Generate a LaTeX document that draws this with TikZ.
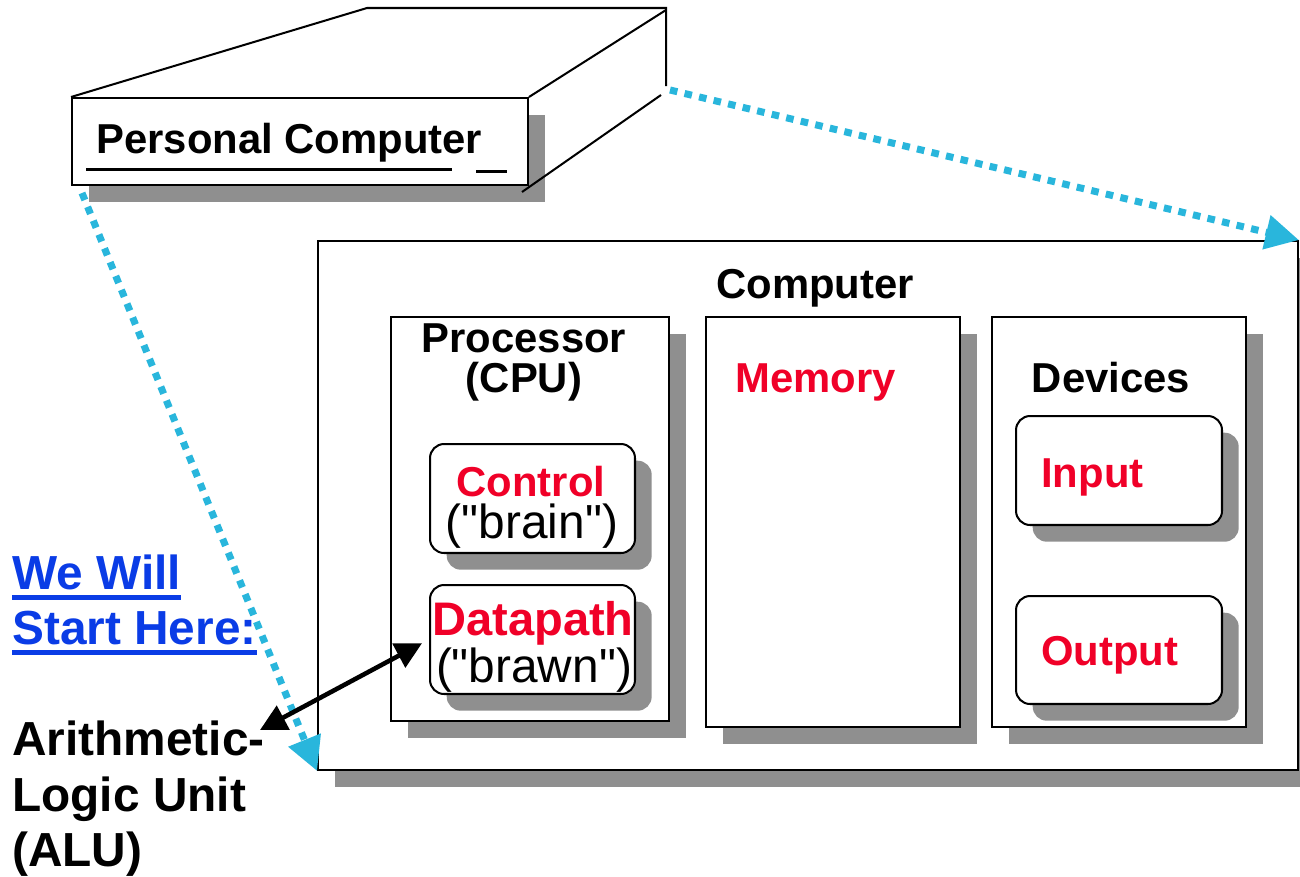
\documentclass[tikz,border=0pt]{standalone}
\usepackage{fontspec}
\setmainfont{Liberation Sans}[Ligatures=TeXOff]
\usetikzlibrary{arrows.meta,shadows}

\definecolor{shade}{HTML}{8F8F8F}
\definecolor{hot}{HTML}{F00028}
\definecolor{linkblue}{HTML}{0A3CE6}
\definecolor{sky}{HTML}{29B6DC}

\newcommand{\capfont}{\fontsize{23.8}{28}\selectfont\bfseries}
\newcommand{\bigfont}{\fontsize{27.2}{32}\selectfont\bfseries}
\newcommand{\plainfont}{\fontsize{27.2}{32}\selectfont}
\newcommand{\dpfont}{\fontsize{26.8}{32}\selectfont\bfseries}

\tikzset{
  panel/.style={draw=black, line width=1.15pt, fill=white, inner sep=0pt,
    general shadow={fill=shade, shadow xshift=9.5pt, shadow yshift=-9.5pt}},
  rbox/.style={panel, rounded corners=8pt, line width=1.15pt},
  edge/.style={draw=black, line width=1.15pt},
  txt/.style={inner sep=0pt, anchor=base},
  txtw/.style={inner sep=0pt, anchor=base west},
  linkrule/.style={draw=linkblue, line width=2.4pt},
  skyline/.style={draw=sky, line width=4pt, dash pattern=on 4.3pt off 4.2pt,
    -{Triangle[length=19pt,width=19pt]}},
  dbl/.style={draw=black, line width=2.6pt,
    {Triangle[length=15pt,width=15pt]}-{Triangle[length=15pt,width=15pt]}},
}

\begin{document}
\begin{tikzpicture}[x=0.02cm, y=-0.02cm]
  \fill[white] (0,0) rectangle (1300,876);
  \useasboundingbox (0,0) rectangle (1300,876);

  % the personal computer case, drawn as a box in perspective
  \node[panel, minimum width=9.12cm, minimum height=1.74cm] (pc) at (300,141.5) {};
  \coordinate (pcbackleft) at (367,8);
  \coordinate (pcbackright) at (666,8);
  \coordinate (pcrightlow) at (666,86);
  \coordinate (pcedgetop) at (666,10);
  \coordinate (pcedgelowA) at (522,192);
  \coordinate (pcedgelowB) at (661,95);
  \draw[edge] (pc.north west) -- (pcbackleft) -- (pcbackright) -- (pcrightlow);
  \draw[edge] (pc.north east) -- (pcedgetop);
  \draw[edge] (pcedgelowA) -- (pcedgelowB);
  \node[txtw, font=\capfont] (pclabel) at (96,153) {Personal Computer};
  \draw[edge] (86,169.5) -- (452,169.5);
  \draw[edge] (476,171.5) -- (507,171.5);

  % the computer and its parts
  \node[panel, minimum width=19.6cm, minimum height=10.58cm] (comp) at (808,505.5) {};
  \node[txt, font=\capfont] (comptitle) at (815,298) {Computer};

  \node[panel, minimum width=5.56cm, minimum height=8.08cm] (proc) at (530,519) {};
  \node[txt, font=\capfont] (proctitle) at (524,352) {Processor};
  \node[txt, font=\capfont] (proctitleb) at (524,392) {(CPU)};

  \node[panel, minimum width=5.08cm, minimum height=8.2cm] (mem) at (833,522) {};
  \node[txtw, font=\capfont, text=hot] (memtitle) at (735,392) {Memory};

  \node[panel, minimum width=5.08cm, minimum height=8.2cm] (dev) at (1119,522) {};
  \node[txt, font=\capfont] (devtitle) at (1111,392) {Devices};

  \node[rbox, minimum width=4.1cm, minimum height=2.18cm] (ctrl) at (532.5,498.5) {};
  \node[txt, font=\capfont, text=hot] (ctrltitle) at (531,496) {Control};
  \node[txt, font=\plainfont] (ctrlnote) at (532,538) {("brain")};

  \node[rbox, minimum width=4.1cm, minimum height=2.18cm] (dp) at (532.5,639.5) {};
  \node[txt, font=\dpfont, text=hot] (dptitle) at (533,635) {Datapath};
  \node[txt, font=\plainfont] (dpnote) at (534,682) {("brawn")};

  \node[rbox, minimum width=4.12cm, minimum height=2.18cm] (inp) at (1119,470.5) {};
  \node[txtw, font=\capfont, text=hot] (inptitle) at (1041,487) {Input};

  \node[rbox, minimum width=4.12cm, minimum height=2.16cm] (outp) at (1119,650) {};
  \node[txtw, font=\capfont, text=hot] (outptitle) at (1041,665) {Output};

  % captions on the left
  \node[txtw, font=\bigfont, text=linkblue] (start1) at (12,589) {We Will};
  \node[txtw, font=\bigfont, text=linkblue] (start2) at (12,644) {Start Here:};
  \draw[linkrule] ([yshift=-4.8pt]start1.base west) -- ([yshift=-4.8pt]start1.base east);
  \draw[linkrule] ([yshift=-4.8pt]start2.base west) -- ([yshift=-4.8pt]start2.base east);
  \node[txtw, font=\bigfont] (alu1) at (12,755) {Arithmetic-};
  \node[txtw, font=\bigfont] (alu2) at (12,811) {Logic Unit};
  \node[txtw, font=\bigfont] (alu3) at (12,866) {(ALU)};

  % zoom-in lines from the case to the computer
  \coordinate (pcside) at (670,90);
  \coordinate (pcfoot) at (82,193);
  \draw[skyline] (pcside) -- (comp.north east);
  \draw[skyline] (pcfoot) -- (comp.south west);

  % the ALU is the datapath
  \coordinate (alutip) at (260,730);
  \draw[dbl, shorten >=4.5pt] (alutip) -- (dp.west);
\end{tikzpicture}
\end{document}
